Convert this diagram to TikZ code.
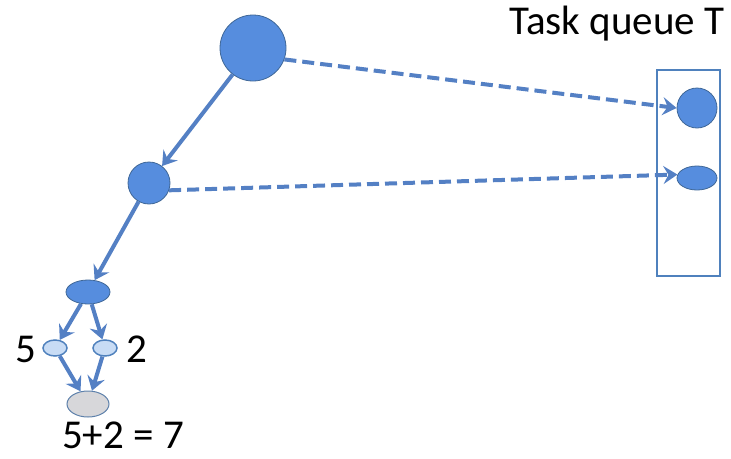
\documentclass[tikz,border=0pt]{standalone}
\usepackage{fontspec}
\setmainfont{Carlito}
\usetikzlibrary{arrows.meta,shapes.geometric}
\definecolor{nodeblue}{RGB}{86,141,222}
\definecolor{edgeblue}{RGB}{79,129,189}
\definecolor{linkblue}{RGB}{84,128,196}
\definecolor{lightblue}{RGB}{200,220,245}
\definecolor{lightgray}{RGB}{215,215,218}
\begin{document}
\begin{tikzpicture}[x=1pt,y=-1pt,
  task/.style={draw=edgeblue!80!black,line width=0.8pt,fill=nodeblue,inner sep=0pt},
  leaf/.style={draw=edgeblue,line width=1.5pt,fill=lightblue,ellipse,minimum width=24pt,minimum height=16pt,inner sep=0pt},
  result/.style={draw=edgeblue!70!gray,line width=1pt,fill=lightgray,ellipse,minimum width=42pt,minimum height=26pt,inner sep=0pt},
  spawn/.style={draw=linkblue,line width=4pt,-{Stealth[length=14pt,width=18pt,inset=5pt]}},
  push/.style={draw=linkblue,line width=4pt,dash pattern=on 12pt off 6pt,-{Stealth[length=14pt,width=18pt,inset=5pt]}},
  lbl/.style={font=\fontsize{41}{41}\selectfont,text=black,inner sep=0pt}]
\useasboundingbox (0,0) rectangle (731,458);
% task nodes
\node[task,circle,minimum size=66pt] (root) at (253,48) {};
\node[task,circle,minimum size=42pt] (mid) at (149,183) {};
\node[task,ellipse,minimum width=44pt,minimum height=24pt] (low) at (88,292) {};
\node[leaf] (l5) at (55,348) {};
\node[leaf] (l2) at (105,348) {};
\node[result] (sum) at (88,404) {};
% queue
\node[draw=edgeblue,line width=1.2pt,minimum width=63pt,minimum height=206pt,inner sep=0pt] (queue) at (688.5,173) {};
\node[task,circle,minimum size=40pt] (q1) at (697,108) {};
\node[task,ellipse,minimum width=40pt,minimum height=24pt] (q2) at (697,178) {};
% labels
\node[lbl,anchor=base] (title) at (617,34) {Task queue T};
\node[lbl,anchor=base east] (t5) at (36,362) {5};
\node[lbl,anchor=base west] (t2) at (126,362) {2};
\node[lbl,anchor=base] (tsum) at (123,448) {5+2 = 7};
% spawn edges
\draw[spawn] (root) -- (mid);
\draw[spawn] (mid) -- (low);
\draw[spawn] (low) -- (l5);
\draw[spawn] (low) -- (l2);
\draw[spawn] (l5) -- (sum);
\draw[spawn] (l2) -- (sum);
% push edges
\draw[push] (root.-20) -- (q1.west);
\draw[push] (mid.-20) -- (q2.170);
\end{tikzpicture}
\end{document}
